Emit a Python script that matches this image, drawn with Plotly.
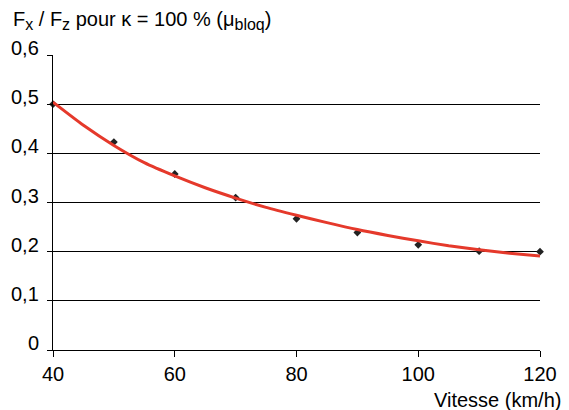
import plotly.graph_objects as go

# Measured points
speed_pts = [40, 50, 60, 70, 80, 90, 100, 110, 120]
mu_pts = [0.500, 0.423, 0.358, 0.310, 0.267, 0.239, 0.214, 0.201, 0.200]

# Red trend curve
speed_curve = [40, 45, 50, 55, 60, 65, 70, 75, 80, 85, 90, 95, 100, 105, 110, 115, 120]
mu_curve = [0.504, 0.457, 0.416, 0.381, 0.354, 0.330, 0.309, 0.290, 0.274,
            0.259, 0.245, 0.233, 0.222, 0.212, 0.204, 0.197, 0.191]

x_ticks = [40, 60, 80, 100, 120]
y_ticks = [0, 0.1, 0.2, 0.3, 0.4, 0.5, 0.6]
y_ticktext = ["0", "0,1", "0,2", "0,3", "0,4", "0,5", "0,6"]

FONT = "Liberation Sans, Arial, Helvetica, sans-serif"
FS = 20

fig = go.Figure()
fig.add_trace(go.Scatter(x=speed_pts, y=mu_pts, mode="markers",
                         marker=dict(symbol="diamond", size=6, color="#222222"),
                         showlegend=False, cliponaxis=False))
fig.add_trace(go.Scatter(x=speed_curve, y=mu_curve, mode="lines",
                         line=dict(color="#e5392b", width=3, shape="spline", smoothing=0.6),
                         showlegend=False, cliponaxis=False))

annots = []
# y tick labels, sitting just above their grid lines as in the reference
for v, t in zip(y_ticks, y_ticktext):
    annots.append(dict(text=t, xref="paper", yref="y", x=0, y=v,
                       xanchor="right", yanchor="middle", xshift=-12, yshift=7,
                       showarrow=False, font=dict(size=FS, family=FONT)))

sub = '<sub><span style="font-size:16px">{}</span></sub>'
title_txt = ("F" + sub.format("x") + " / F" + sub.format("z")
             + " pour \u03ba = 100 % (\u03bc" + sub.format("bloq") + ")")
annots.append(dict(text=title_txt, xref="paper", yref="paper", x=-53/494, y=1 + 20/295,
                   xanchor="left", yanchor="bottom", showarrow=False,
                   font=dict(size=FS, family=FONT), xshift=10))
annots.append(dict(text="Vitesse (km/h)", xref="paper", yref="paper",
                   x=1 + 17/494, y=-50/295, xanchor="right", yanchor="middle",
                   showarrow=False, font=dict(size=FS, family=FONT), xshift=6))

fig.update_layout(
    width=569, height=410,
    margin=dict(l=53, r=22, t=55, b=60),
    paper_bgcolor="white", plot_bgcolor="white",
    font=dict(family=FONT, size=FS, color="black"),
    separators=", ",
    xaxis=dict(range=[40, 120], tickvals=x_ticks, showgrid=False, zeroline=False,
               showline=True, linecolor="black", linewidth=1,
               ticks="outside", ticklen=6, tickcolor="black", tickwidth=1,
               ticklabelstandoff=0,
               tickfont=dict(size=FS), fixedrange=True),
    yaxis=dict(range=[0, 0.6], tickvals=y_ticks, showticklabels=False,
               showgrid=True, gridcolor="black", gridwidth=1, zeroline=False,
               showline=True, linecolor="black", linewidth=1,
               ticks="outside", ticklen=5, tickcolor="black", tickwidth=1,
               fixedrange=True),
    annotations=annots,
)

fig.write_html("out.html")
